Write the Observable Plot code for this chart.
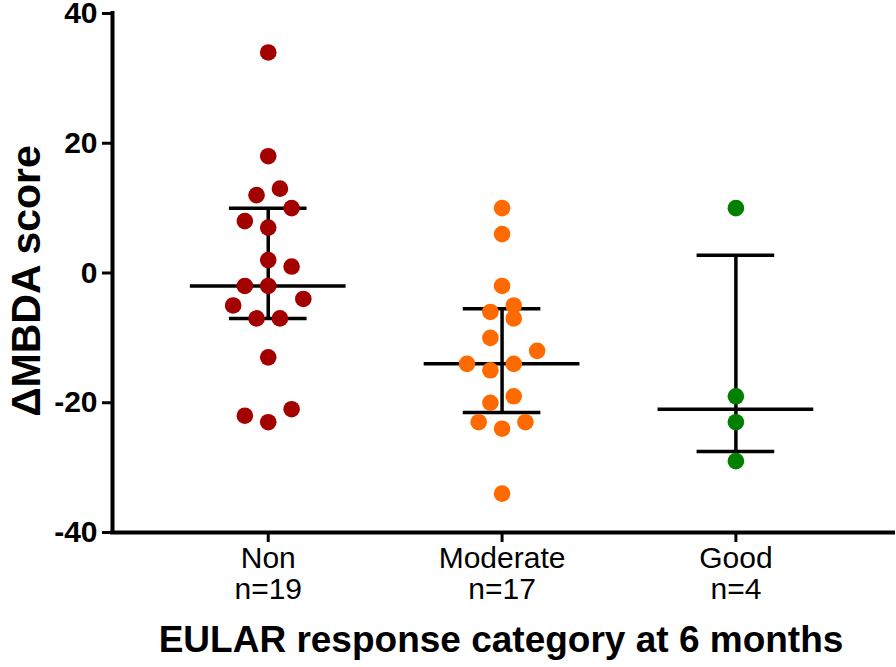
<!DOCTYPE html>
<html>
<head>
<meta charset="utf-8">
<script src="https://cdn.jsdelivr.net/npm/d3@7"></script>
<script src="https://cdn.jsdelivr.net/npm/@observablehq/plot@0.6"></script>
<style>
  html, body { margin: 0; padding: 0; background: #fff; }
  #chart { width: 896px; height: 667px; }
</style>
</head>
<body>
<div id="chart"></div>
<script>
// ---- data ----
const categories = ["Non", "Moderate", "Good"];
const nLabels = ["n=19", "n=17", "n=4"];
const nonValues = [34, 18, 13, 12, 10, 8, 7, 2, 1, -2, -2, -4, -5, -7, -7, -13, -21, -22, -23];
const moderateValues = [10, 6, -2, -5, -6, -7, -10, -12, -14, -14, -15, -19, -20, -23, -23, -24, -34];
const goodValues = [10, -19, -23, -29];
const medians = [-2, -14, -21];
const q1 = [-7, -21.5, -27.5];
const q3 = [10, -5.5, 2.75];
const yTicks = [-40, -20, 0, 20, 40];
const colors = ["#a30000", "#ff6a00", "#008000"];

// ---- layout helpers ----
const step = 0.05;       // horizontal spacing of swarm slots (x units)
const medianHalf = 0.333;
const capHalf = 0.166;

function swarm(values, idx) {
  const sorted = values.slice().sort((a, b) => a - b);
  const out = [];
  let i = 0;
  while (i < sorted.length) {
    const v0 = sorted[i];
    const row = [];
    while (i < sorted.length && sorted[i] - v0 <= 3) row.push(sorted[i++]);
    const k = row.length;
    const slots = [];
    if (k % 2) {
      slots.push(0);
      for (let j = 1; slots.length < k; j++) slots.push(-2 * j, 2 * j);
    } else {
      for (let j = 0; slots.length < k; j++) slots.push(-(2 * j + 1), 2 * j + 1);
    }
    row.forEach((v, m) => out.push({category: categories[idx], value: v, x: idx + slots[m] * step}));
  }
  return out;
}

const groups = [nonValues, moderateValues, goodValues];
const points = groups.flatMap((vals, i) => swarm(vals, i));
const stats = categories.map((c, i) => ({i, median: medians[i], q1: q1[i], q3: q3[i]}));

const xDomain = [-0.666, 2.674];

const chart = Plot.plot({
  width: 896,
  height: 667,
  marginLeft: 112,
  marginRight: 3,
  marginTop: 13,
  marginBottom: 135,
  style: {fontFamily: "'Liberation Sans', Arial, Helvetica, sans-serif", background: "white", color: "black", overflow: "visible"},
  x: {domain: xDomain},
  y: {domain: [-40, 40]},
  color: {domain: categories, range: colors},
  marks: [
    Plot.axisY({ticks: yTicks, tickFormat: d => String(d), tickSize: 10, tickPadding: 5, fontSize: 30, fontWeight: "bold", strokeWidth: 3, label: null}),
    Plot.axisX({ticks: [0, 1, 2], tickFormat: i => categories[i] + "\n" + nLabels[i], tickSize: 10, tickPadding: 4, fontSize: 30, lineHeight: 1.03, strokeWidth: 3, label: null}),
    Plot.ruleY([-40], {stroke: "black", strokeWidth: 4, strokeLinecap: "square"}),
    Plot.ruleX([xDomain[0]], {y1: -40, y2: 40, stroke: "black", strokeWidth: 4, strokeLinecap: "square"}),
    Plot.ruleX(stats, {x: "i", y1: "q1", y2: "q3", stroke: "black", strokeWidth: 3.5}),
    Plot.ruleY(stats, {y: "median", x1: d => d.i - medianHalf, x2: d => d.i + medianHalf, stroke: "black", strokeWidth: 3.5}),
    Plot.ruleY(stats, {y: "q1", x1: d => d.i - capHalf, x2: d => d.i + capHalf, stroke: "black", strokeWidth: 3.5}),
    Plot.ruleY(stats, {y: "q3", x1: d => d.i - capHalf, x2: d => d.i + capHalf, stroke: "black", strokeWidth: 3.5}),
    Plot.dot(points, {x: "x", y: "value", r: 8.3, fill: "category", stroke: null}),
    Plot.text(["\u0394MBDA score"], {frameAnchor: "left", dx: -86, dy: 8, rotate: -90, text: d => d, fontSize: 41, fontWeight: "bold", textAnchor: "middle", lineAnchor: "middle"}),
    Plot.text(["EULAR response category at 6 months"], {frameAnchor: "bottom", dy: 108, text: d => d, fontSize: 37, fontWeight: "bold", textAnchor: "middle", lineAnchor: "middle", dx: -2})
  ]
});
document.getElementById("chart").appendChild(chart);
</script>
</body>
</html>
